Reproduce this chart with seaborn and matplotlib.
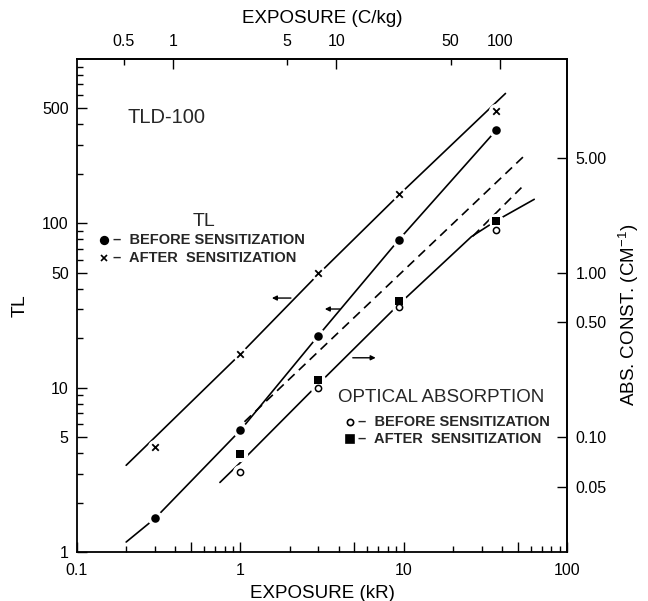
import matplotlib
matplotlib.use("Agg")
import matplotlib.pyplot as plt
import seaborn as sns
from matplotlib.ticker import LogLocator, NullFormatter, NullLocator

# Exposure (kR) at which TL was read
exposure_kr = [0.3, 1, 3, 9.3, 37]
# TL response (arbitrary units)
tl_before = [1.6, 5.5, 20.7, 79, 370]
tl_after = [4.35, 16.0, 50, 151, 482]

# Optical absorption constants (cm^-1)
exposure_abs = [1, 3, 9.3, 37]
abs_before = [0.061, 0.20, 0.62, 1.83]
abs_after = [0.079, 0.224, 0.67, 2.07]

# Hand-drawn trend curves
fit_after_x = [0.2, 1, 3, 9.3, 42]
fit_after_y = [3.37, 16, 49, 148, 617]
fit_before_x = [0.2, 0.3, 1, 3, 9.3, 37]
fit_before_y = [1.15, 1.6, 5.5, 20.7, 79, 370]
fit_abs_x = [0.75, 1, 3, 9.3, 26, 37, 63]
fit_abs_y = [0.053, 0.07, 0.21, 0.64, 1.66, 2.08, 2.8]
dash_upper_x = [1.06, 56]
dash_upper_y = [0.124, 5.26]
dash_lower_x = [26.5, 52.6]
dash_lower_y = [1.67, 3.3]

# Axis ticks
x_ticks = [0.1, 0.5, 1, 5, 10, 50, 100]
x_labels = ["0.1", "", "1", "", "10", "", "100"]
y_ticks = [1, 5, 10, 50, 100, 500]
y_labels = ["1", "5", "10", "50", "100", "500"]
top_major = [1, 10, 100]
top_major_labels = ["1", "10", "100"]
top_minor = [0.5, 5, 50]
top_minor_labels = ["0.5", "5", "50"]
right_ticks = [0.05, 0.1, 0.5, 1, 5]
right_labels = ["0.05", "0.10", "0.50", "1.00", "5.00"]

KR_TO_CKG = 2.58      # top scale factor
TL_PER_ABS = 50.0     # right scale factor

W, H = 648, 601

sns.set_theme(style="ticks")
plt.rcParams["font.family"] = ["Liberation Sans", "DejaVu Sans"]
plt.rcParams["mathtext.default"] = "regular"

fig = plt.figure(figsize=(W / 100, H / 100), dpi=100)
ax = fig.add_axes([77 / W, 1 - 552 / H, 490 / W, 493 / H])
ax.set_xscale("log")
ax.set_yscale("log")

lw = 1.2
# trend curves
sns.lineplot(x=fit_after_x, y=fit_after_y, ax=ax, color="black", lw=lw,
             estimator=None, sort=False, zorder=2)
sns.lineplot(x=fit_before_x, y=fit_before_y, ax=ax, color="black", lw=lw,
             estimator=None, sort=False, zorder=2)
sns.lineplot(x=fit_abs_x, y=[v * TL_PER_ABS for v in fit_abs_y], ax=ax,
             color="black", lw=lw, estimator=None, sort=False, zorder=2)
for dx, dy in [(dash_upper_x, dash_upper_y), (dash_lower_x, dash_lower_y)]:
    sns.lineplot(x=dx, y=[v * TL_PER_ABS for v in dy], ax=ax, color="black",
                 lw=lw, estimator=None, sort=False, zorder=2)
    ax.lines[-1].set_dashes((5.5, 3.5))

# white halos break the curves around each point
abs_before_tl = [v * TL_PER_ABS for v in abs_before]
abs_after_tl = [v * TL_PER_ABS for v in abs_after]
for xs, ys in [(exposure_kr, tl_before), (exposure_kr, tl_after),
               (exposure_abs, abs_before_tl), (exposure_abs, abs_after_tl)]:
    sns.scatterplot(x=xs, y=ys, ax=ax, s=120, color="white", linewidth=0,
                    zorder=3, legend=False)

sns.scatterplot(x=exposure_kr, y=tl_before, ax=ax, marker="o", s=38,
                color="black", linewidth=0, zorder=4, legend=False)
sns.scatterplot(x=exposure_kr, y=tl_after, ax=ax, marker="x", s=22,
                color="black", linewidth=1.3, zorder=4, legend=False)
sns.scatterplot(x=exposure_abs, y=abs_before_tl, ax=ax, marker="o", s=20,
                color="white", edgecolor="black", linewidth=1.1, zorder=4,
                legend=False)
sns.scatterplot(x=exposure_abs, y=abs_after_tl, ax=ax, marker="s", s=34,
                color="black", linewidth=0, zorder=4, legend=False)

# arrows pointing each curve group to its axis
arrows = [((2.04, 35.1), (1.56, 35.1)),
          ((4.06, 30.1), (3.29, 30.1)),
          ((4.88, 15.2), (6.74, 15.2))]
for tail, head in arrows:
    ax.annotate("", xy=head, xytext=tail,
                arrowprops=dict(arrowstyle="-|>", color="black", lw=1.0,
                                mutation_scale=7, shrinkA=0, shrinkB=0))

ax.set_xlim(0.1, 100)
ax.set_ylim(1, 1000)

# bottom / left ticks
ax.set_xticks(x_ticks, x_labels)
ax.xaxis.set_minor_locator(LogLocator(base=10, subs=[2, 3, 4, 6, 7, 8, 9]))
ax.xaxis.set_minor_formatter(NullFormatter())
ax.set_yticks(y_ticks, y_labels)
ax.yaxis.set_minor_locator(LogLocator(base=10, subs=[2, 3, 4, 6, 7, 8, 9]))
ax.yaxis.set_minor_formatter(NullFormatter())
ax.tick_params(which="major", direction="in", length=7, width=1.0,
               labelsize=11.5, color="black", labelcolor="black", pad=8)
ax.tick_params(which="minor", direction="in", length=4, width=1.0,
               color="black")
ax.tick_params(axis="y", which="major", pad=6)

for sp in ax.spines.values():
    sp.set_visible(True)
    sp.set_linewidth(1.3)
    sp.set_color("black")

ax.set_xlabel("EXPOSURE (kR)", fontsize=13.5, labelpad=5, color="black")
ax.set_ylabel("TL", fontsize=14, labelpad=10, color="black")

# top: exposure in C/kg
top = ax.secondary_xaxis("top", functions=(lambda v: v * KR_TO_CKG,
                                           lambda v: v / KR_TO_CKG))
top.set_xticks(top_major, top_major_labels)
top.set_xticks(top_minor, top_minor_labels, minor=True)
top.tick_params(which="both", direction="in", width=1.0, labelsize=11.5,
                color="black", labelcolor="black", pad=7)
top.tick_params(which="major", length=7)
top.tick_params(which="minor", length=4)
top.spines["top"].set_linewidth(1.3)
top.set_xlabel("EXPOSURE (C/kg)", fontsize=13.5, labelpad=8, color="black")

# right: absorption constant
right = ax.secondary_yaxis("right", functions=(lambda v: v / TL_PER_ABS,
                                               lambda v: v * TL_PER_ABS))
right.set_yticks(right_ticks, right_labels)
right.yaxis.set_minor_locator(NullLocator())
right.tick_params(which="major", direction="in", length=7, width=1.0,
                  labelsize=11.5, color="black", labelcolor="black", pad=6)
right.spines["right"].set_linewidth(1.3)
right.set_ylabel("ABS. CONST. (CM$^{-1}$)", fontsize=13.5, color="black")
right.yaxis.set_label_coords(1.102, 0.48, transform=ax.transAxes)


def fpos(px, py):
    return px / W, 1 - py / H


fig.text(*fpos(128, 117), "TLD-100", fontsize=14.5, va="center", ha="left")
fig.text(*fpos(204, 222), "TL", fontsize=14, va="center", ha="center")
fig.text(*fpos(113, 240), "–  BEFORE SENSITIZATION", fontsize=10.5,
         fontweight="bold", va="center", ha="left")
fig.text(*fpos(113, 258), "–  AFTER  SENSITIZATION", fontsize=10.5,
         fontweight="bold", va="center", ha="left")
fig.text(*fpos(338, 397), "OPTICAL ABSORPTION", fontsize=13.5, va="center",
         ha="left")
fig.text(*fpos(358, 422), "–  BEFORE SENSITIZATION", fontsize=10.5,
         fontweight="bold", va="center", ha="left")
fig.text(*fpos(358, 439), "–  AFTER  SENSITIZATION", fontsize=10.5,
         fontweight="bold", va="center", ha="left")

# legend keys
keys = [((104, 240), "o", "black", "black", 5.5),
        ((104, 258), "x", "black", "black", 4.5),
        ((350, 422), "o", "white", "black", 4.5),
        ((350, 439), "s", "black", "black", 5.5)]
for (px, py), m, fc, ec, ms in keys:
    ax.plot([px / W], [1 - py / H], marker=m, ms=ms, mfc=fc, mec=ec,
            mew=1.2, transform=fig.transFigure, clip_on=False, ls="none")

fig.savefig("out.png", dpi=100, facecolor="white")
